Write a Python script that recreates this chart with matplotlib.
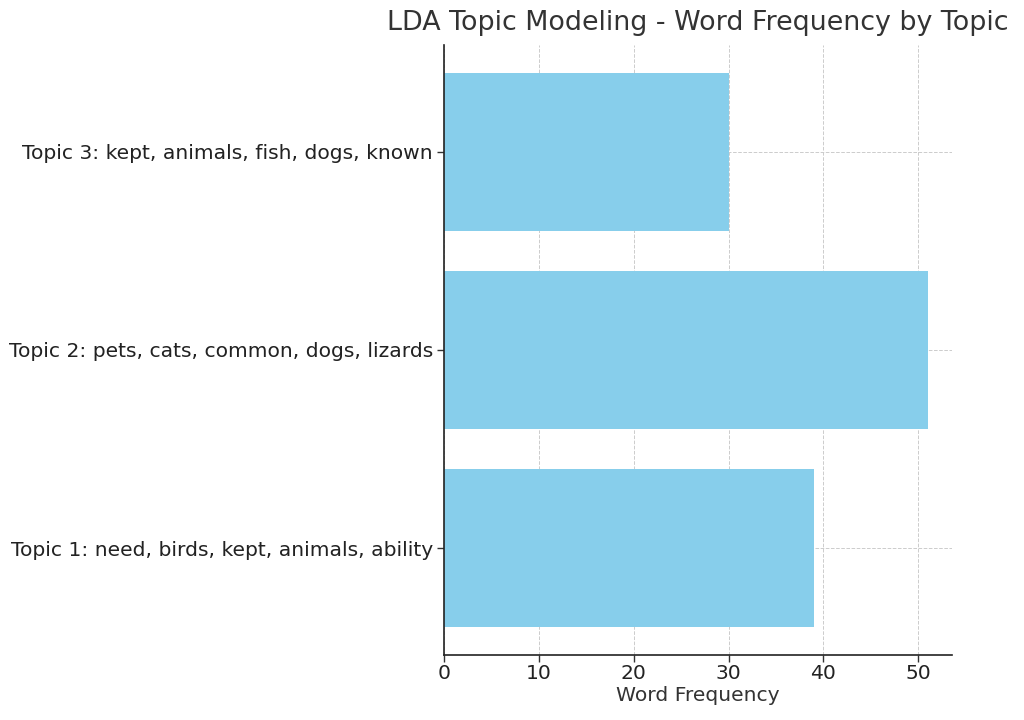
import matplotlib.pyplot as plt

topics = [
    "Topic 1: need, birds, kept, animals, ability",
    "Topic 2: pets, cats, common, dogs, lizards",
    "Topic 3: kept, animals, fish, dogs, known",
]
frequencies = [39, 51, 30]

plt.rcParams["text.color"] = "#333333"
plt.rcParams["axes.labelcolor"] = "#333333"
plt.rcParams["xtick.color"] = "#333333"
plt.rcParams["ytick.color"] = "#333333"

fig = plt.figure(figsize=(10.24, 7.2), dpi=100)
ax = fig.add_axes([0.4336, 0.0903, 0.4961, 0.8472])

ax.barh(topics, frequencies, color="skyblue", height=0.8, zorder=2)
ax.set_xlabel("Word Frequency", fontsize=14.6, labelpad=2)
ax.set_title("LDA Topic Modeling - Word Frequency by Topic", fontsize=19.4, pad=11)
ax.tick_params(axis="both", labelsize=14.6, length=5, width=1,
               colors="#333333", labelcolor="#222222")
ax.tick_params(axis="x", pad=1.5)
ax.tick_params(axis="y", pad=3)
ax.grid(True, linestyle="--", color="#cccccc", linewidth=0.7, zorder=0)
ax.spines["top"].set_visible(False)
ax.spines["right"].set_visible(False)
ax.spines["left"].set_color("#222222")
ax.spines["bottom"].set_color("#222222")
ax.spines["left"].set_linewidth(1.2)
ax.spines["bottom"].set_linewidth(1.2)

fig.savefig("out.png", dpi=100)
